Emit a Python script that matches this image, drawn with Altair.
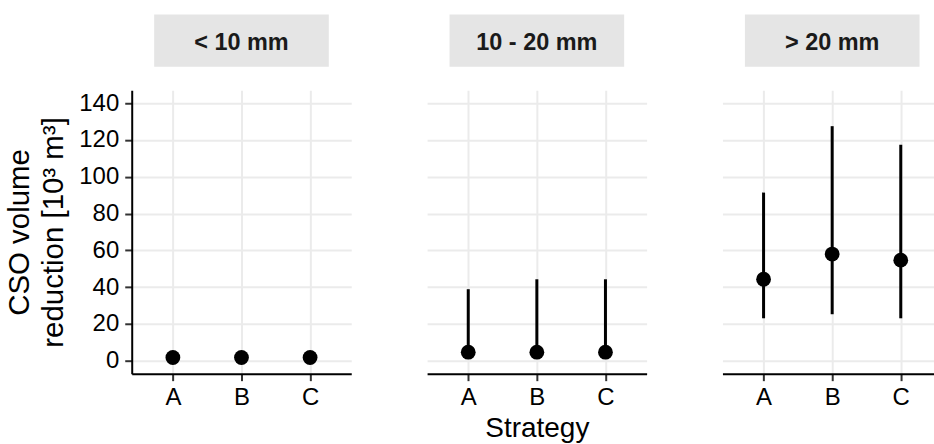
import altair as alt
import pandas as pd

# Rainfall classes (panels) and strategies (x categories)
groups = ["< 10 mm", "10 - 20 mm", "> 20 mm"]
strategies = ["A", "B", "C"]

# CSO volume reduction [10^3 m^3]: central value and interval bounds per class
mid_values = [
    [1.8, 1.8, 1.8],
    [4.7, 4.7, 4.7],
    [44.3, 58.0, 54.7],
]
low_values = [
    [0.6, 0.6, 0.6],
    [1.5, 1.5, 1.5],
    [23.1, 25.3, 23.1],
]
high_values = [
    [3.0, 3.0, 3.0],
    [38.9, 44.3, 44.3],
    [91.4, 127.5, 117.4],
]
y_ticks = [0, 20, 40, 60, 80, 100, 120, 140]

FONT = "Liberation Sans"
PANEL_W = 220
PANEL_H = 284
STRIP_W = 175
GRID = "#EBEBEB"
TICK_FS = 24


def panel(i, width, pad, align, first=False, x_title=None):
    df = pd.DataFrame({
        "Strategy": strategies,
        "mid": mid_values[i],
        "lo": low_values[i],
        "hi": high_values[i],
    })
    x_axis = alt.Axis(
        title=x_title if x_title else None,
        labelAngle=0, labelFontSize=TICK_FS, labelColor="#000000", labelFont=FONT,
        labelPadding=5, tickSize=7, tickWidth=2, tickColor="#333333",
        domainColor="#000000", domainWidth=2,
        grid=True, gridColor=GRID, gridWidth=2,
        titleFontSize=28, titleFont=FONT, titleFontWeight="normal",
        titleColor="#000000", titlePadding=5,
    )
    x = alt.X("Strategy:N", sort=strategies,
              scale=alt.Scale(type="point", padding=pad, align=align),
              axis=x_axis)
    if first:
        y_axis = alt.Axis(
            values=y_ticks, title=["CSO volume", "reduction [10³ m³]"],
            labelFontSize=TICK_FS, labelColor="#000000", labelFont=FONT,
            labelPadding=6, tickSize=7, tickWidth=2, tickColor="#333333",
            domainColor="#000000", domainWidth=2,
            grid=True, gridColor=GRID, gridWidth=2,
            titleFontSize=29.5, titleFont=FONT, titleFontWeight="normal",
            titleColor="#000000", titlePadding=10, titleLineHeight=34,
        )
    else:
        y_axis = alt.Axis(
            values=y_ticks, title=None, labels=False, ticks=False,
            domain=False, grid=True, gridColor=GRID, gridWidth=2,
        )
    y_scale = alt.Scale(domain=[-7, 147], nice=False, zero=False)

    bars = alt.Chart(df).mark_rule(color="black", strokeWidth=3).encode(
        x=x,
        y=alt.Y("lo:Q", scale=y_scale, axis=y_axis),
        y2="hi:Q",
    )
    points = alt.Chart(df).mark_circle(size=220, color="black", opacity=1).encode(
        x=x,
        y=alt.Y("mid:Q", scale=y_scale, axis=y_axis),
    )

    cx = PANEL_W / 2
    head = pd.DataFrame({"g": [groups[i]]})
    strip = alt.Chart(head).mark_rect(color="#E5E5E5").encode(
        x=alt.value(cx - STRIP_W / 2), x2=alt.value(cx + STRIP_W / 2),
        y=alt.value(-76), y2=alt.value(-23.5),
    )
    label = alt.Chart(head).mark_text(
        font=FONT, fontSize=23.5, fontWeight="bold", color="#1A1A1A",
        baseline="alphabetic", align="center",
    ).encode(x=alt.value(cx), y=alt.value(-40), text="g:N")

    return alt.layer(strip, label, bars, points).properties(
        width=width, height=PANEL_H
    )


p1 = panel(0, PANEL_W, 0.6, 0.5, first=True)
p2 = panel(1, PANEL_W, 0.6, 0.5, x_title="Strategy")
# the last panel runs to the right edge of the figure
p3 = panel(2, 212, 0.542, 0.553)

chart = alt.hconcat(p1, p2, p3, spacing=76).properties(
    padding={"left": 4, "top": 14, "right": 0, "bottom": 0},
    background="white",
).configure_view(stroke=None)

chart.save("out.html", embed_options={"renderer": "svg", "actions": False})
